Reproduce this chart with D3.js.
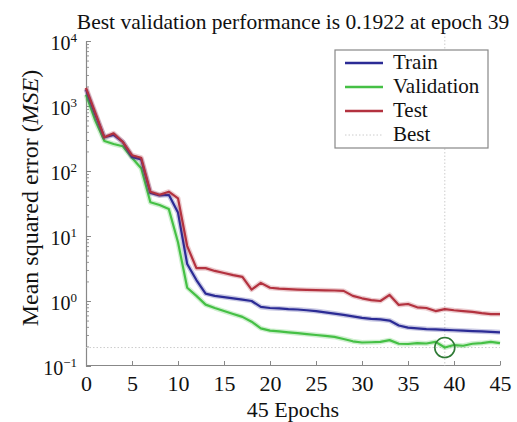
<!DOCTYPE html>
<html><head><meta charset="utf-8">
<script src="https://cdn.jsdelivr.net/npm/d3@7"></script>
<style>
body{margin:0;background:#fff;}
svg{display:block;}
</style></head>
<body><svg id="c" width="517" height="422"></svg>
<script>
const epochs = d3.range(0, 46);
const trainMSE = [1800,750,330,360,280,165,150,46,42,43,23,3.7,2.1,1.3,1.2,1.15,1.1,1.05,1.0,0.81,0.78,0.77,0.75,0.74,0.72,0.7,0.67,0.64,0.61,0.58,0.55,0.53,0.52,0.5,0.42,0.39,0.38,0.37,0.365,0.36,0.355,0.35,0.345,0.34,0.335,0.33];
const validationMSE = [1500,600,290,260,240,160,110,33,30,26,8,1.6,1.2,0.88,0.78,0.7,0.63,0.57,0.48,0.38,0.35,0.34,0.33,0.32,0.31,0.3,0.29,0.28,0.26,0.24,0.23,0.232,0.235,0.25,0.22,0.218,0.225,0.222,0.235,0.1922,0.21,0.205,0.22,0.225,0.235,0.225];
const testMSE = [1900,800,330,380,280,175,160,48,43,48,38,7,3.2,3.2,2.9,2.7,2.5,2.35,1.5,1.9,1.6,1.55,1.52,1.5,1.48,1.47,1.46,1.45,1.43,1.2,1.1,1.03,1.0,1.24,0.87,0.9,0.8,0.78,0.7,0.75,0.72,0.7,0.68,0.65,0.63,0.63];
const bestEpoch = 39, bestValue = 0.1922;
const xTicks = [0,5,10,15,20,25,30,35,40,45];
const yTicks = [0.1,1,10,100,1000,10000];
const yExponents = ["\u22121","0","1","2","3","4"];
const seriesNames = ["Train","Validation","Test"];
const seriesColors = ["#2b2b95","#45c045","#b3323f"];
const titleText = "Best validation performance is 0.1922 at epoch 39";
const xLabel = "45 Epochs";

const FONT = "'Liberation Serif'";
const svg = d3.select("#c");
const L=86, R=500, T=41, B=366;
const x = d3.scaleLinear().domain([0,45]).range([L,R]);
const y = d3.scaleLog().domain([0.1,10000]).range([B,T]);

// minor ticks
const minors=[];
for(let d=-1; d<4; d++) for(let k=2;k<10;k++) minors.push(k*Math.pow(10,d));
svg.append("g").attr("transform",`translate(${L},0)`)
  .call(d3.axisLeft(y).tickValues(minors).tickSize(-3).tickFormat(""))
  .call(g=>{g.select(".domain").remove(); g.selectAll("line").attr("stroke","#999");});

// y axis
const ya = svg.append("g").attr("transform",`translate(${L},0)`)
  .call(d3.axisLeft(y).tickValues(yTicks).tickSize(-5).tickSizeOuter(0).tickPadding(9).tickFormat(""));
ya.select(".domain").attr("stroke","#888").attr("stroke-width",1.2);
ya.selectAll("line").attr("stroke","#888");
ya.selectAll(".tick text").each(function(d,i){
  const t=d3.select(this).style("font-family",FONT).style("font-size","20px").attr("fill","#111").attr("dy","0.4em");
  t.append("tspan").text("10");
  t.append("tspan").attr("dy","-0.55em").style("font-size","13px").text(yExponents[i]);
});

// x axis
const xa = svg.append("g").attr("transform",`translate(0,${B-1})`)
  .call(d3.axisBottom(x).tickValues(xTicks).tickSize(-4).tickSizeOuter(0).tickPadding(10));
xa.select(".domain").attr("stroke","#888").attr("stroke-width",1.2);
xa.selectAll("line").attr("stroke","#888");
xa.selectAll("text").style("font-family",FONT).style("font-size","22px").attr("fill","#111");

// best lines
svg.append("line").attr("x1",L).attr("x2",R).attr("y1",y(bestValue)).attr("y2",y(bestValue))
  .attr("stroke","#ccc").attr("stroke-dasharray","1.5,2").attr("stroke-width",1);
svg.append("line").attr("x1",x(bestEpoch)).attr("x2",x(bestEpoch)).attr("y1",T-8).attr("y2",B)
  .attr("stroke","#ccc").attr("stroke-dasharray","1.5,2").attr("stroke-width",1);

// series
const line = d3.line().x((d,i)=>x(epochs[i])).y(d=>y(d));
const allSeries=[trainMSE,validationMSE,testMSE];
[1,0,2].forEach(si=>{
  svg.append("path").datum(allSeries[si]).attr("d",line).attr("fill","none")
    .attr("stroke",seriesColors[si]).attr("stroke-opacity",0.25).attr("stroke-width",5).attr("stroke-linejoin","round");
  svg.append("path").datum(allSeries[si]).attr("d",line).attr("fill","none")
    .attr("stroke",seriesColors[si]).attr("stroke-width",2.2).attr("stroke-linejoin","round");
});

// best circle
svg.append("circle").attr("cx",x(bestEpoch)).attr("cy",y(bestValue)).attr("r",10)
  .attr("fill","none").attr("stroke","#2f7a35").attr("stroke-width",1.6);

// title & labels
svg.append("text").attr("x",293).attr("y",29).attr("text-anchor","middle").style("font-family",FONT).style("font-size","21.5px").attr("fill","#111").text(titleText);
svg.append("text").attr("x",293).attr("y",417).attr("text-anchor","middle").style("font-family",FONT).style("font-size","22px").attr("fill","#111").text(xLabel);
const yl = svg.append("text").attr("transform","translate(38,198) rotate(-90)").attr("text-anchor","middle").style("font-family",FONT).style("font-size","24px").attr("fill","#111");
yl.append("tspan").text("Mean squared error (");
yl.append("tspan").style("font-style","italic").text("MSE");
yl.append("tspan").text(")");

// legend
const lg = svg.append("g");
lg.append("rect").attr("x",335).attr("y",50).attr("width",153).attr("height",98)
  .attr("fill","#fff").attr("stroke","#888").attr("stroke-width",1.2);
const legNames = seriesNames.concat(["Best"]);
legNames.forEach((n,i)=>{
  const ly = 63 + i*24;
  const ln = lg.append("line").attr("x1",345).attr("x2",383).attr("y1",ly).attr("y2",ly);
  if(i<3) ln.attr("stroke",seriesColors[i]).attr("stroke-width",2.4);
  else ln.attr("stroke","#ccc").attr("stroke-width",1).attr("stroke-dasharray","1.5,2");
  lg.append("text").attr("x",393).attr("y",ly+6).style("font-family",FONT).style("font-size","21px").attr("fill","#111").text(n);
});
</script></body></html>
